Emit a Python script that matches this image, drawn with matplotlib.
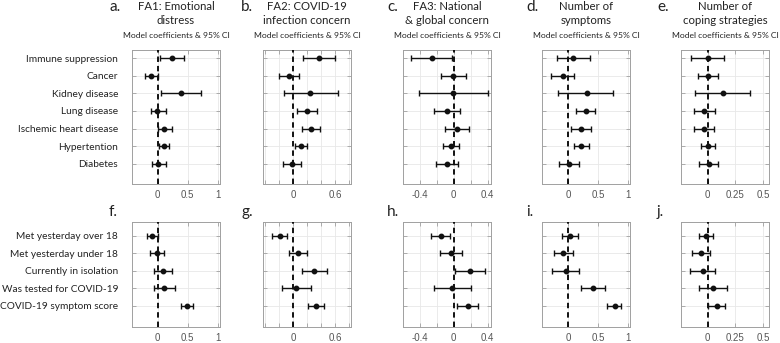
import matplotlib.pyplot as plt

# ---------------- data ----------------
row1_labels = ["Immune suppression", "Cancer", "Kidney disease", "Lung disease",
               "Ischemic heart disease", "Hypertention", "Diabetes"]
row2_labels = ["Met yesterday over 18", "Met yesterday under 18",
               "Currently in isolation", "Was tested for COVID-19",
               "COVID-19 symptom score"]

# top row: coefficient, lower / upper 95% CI
a_coef = [0.245, -0.105, 0.395, -0.005, 0.11, 0.10, 0.01]
a_lo = [0.045, -0.217, 0.05, -0.12, 0.005, 0.02, -0.095]
a_hi = [0.44, 0.01, 0.73, 0.13, 0.23, 0.18, 0.13]

b_coef = [0.37, -0.057, 0.25, 0.193, 0.255, 0.108, -0.014]
b_lo = [0.147, -0.195, -0.133, 0.05, 0.122, 0.023, -0.138]
b_hi = [0.605, 0.08, 0.64, 0.34, 0.39, 0.207, 0.118]

c_coef = [-0.258, -0.004, -0.008, -0.08, 0.036, -0.028, -0.083]
c_lo = [-0.505, -0.147, -0.413, -0.23, -0.107, -0.124, -0.214]
c_hi = [-0.016, 0.15, 0.405, 0.075, 0.18, 0.067, 0.051]

d_coef = [0.084, -0.095, 0.314, 0.297, 0.213, 0.213, 0.011]
d_lo = [-0.19, -0.29, -0.17, 0.134, 0.045, 0.10, -0.157]
d_hi = [0.36, 0.10, 0.75, 0.454, 0.386, 0.353, 0.19]

e_coef = [0.0, 0.006, 0.142, -0.033, -0.033, 0.003, 0.009]
e_lo = [-0.148, -0.082, -0.115, -0.124, -0.124, -0.058, -0.076]
e_hi = [0.15, 0.094, 0.38, 0.07, 0.058, 0.07, 0.094]

# bottom row
f_coef = [-0.094, -0.017, 0.089, 0.11, 0.49]
f_lo = [-0.178, -0.122, -0.056, -0.067, 0.394]
f_hi = [0.0, 0.10, 0.245, 0.283, 0.594]

g_coef = [-0.19, 0.066, 0.30, 0.047, 0.333]
g_lo = [-0.295, -0.057, 0.128, -0.157, 0.214]
g_hi = [-0.08, 0.195, 0.48, 0.252, 0.447]

h_coef = [-0.155, -0.032, 0.19, -0.016, 0.163]
h_lo = [-0.27, -0.163, 0.012, -0.234, 0.044]
h_hi = [-0.044, 0.10, 0.373, 0.20, 0.29]

i_coef = [0.03, -0.08, -0.03, 0.41, 0.78]
i_lo = [-0.11, -0.235, -0.27, 0.21, 0.66]
i_hi = [0.17, 0.085, 0.19, 0.615, 0.89]

j_coef = [-0.015, -0.06, -0.045, 0.048, 0.088]
j_lo = [-0.079, -0.145, -0.157, -0.076, 0.006]
j_hi = [0.052, 0.018, 0.064, 0.176, 0.16]

titles = [("FA1: Emotional", "distress"),
          ("FA2: COVID-19", "infection concern"),
          ("FA3: National", "& global concern"),
          ("Number of", "symptoms"),
          ("Number of", "coping strategies")]
letters_top = ["a.", "b.", "c.", "d.", "e."]
letters_bot = ["f.", "g.", "h.", "i.", "j."]

# ---------------- layout ----------------
W, H = 780, 343
col_left = [132, 263, 403, 542, 681]
col_w = 88
letter_x = [109, 241, 387, 526, 657]

xlims = [(-0.43, 1.04), (-0.43, 0.83), (-0.60, 0.44), (-0.44, 1.04), (-0.24, 0.555)]
xticks = [[0, 0.5, 1],
          [-0.4, -0.2, 0, 0.2, 0.4, 0.6, 0.8],
          [-0.6, -0.4, -0.2, 0, 0.2, 0.4],
          [0, 0.5, 1],
          [0, 0.25, 0.5]]
xticklabels = [["0", "0.5", "1"],
               ["", "", "0", "", "", "0.6", ""],
               ["", "-0.4", "", "0", "", "0.4"],
               ["0", "0.5", "1"],
               ["0", "0.25", "0.5"]]

top_data = [(a_coef, a_lo, a_hi), (b_coef, b_lo, b_hi), (c_coef, c_lo, c_hi),
            (d_coef, d_lo, d_hi), (e_coef, e_lo, e_hi)]
bot_data = [(f_coef, f_lo, f_hi), (g_coef, g_lo, g_hi), (h_coef, h_lo, h_hi),
            (i_coef, i_lo, i_hi), (j_coef, j_lo, j_hi)]

TXT = "Lato"
SPINE = "#a0a0a0"

fig = plt.figure(figsize=(W / 100, H / 100), dpi=100)


def px_axes(x0, y0, w, h):
    return fig.add_axes([x0 / W, 1 - (y0 + h) / H, w / W, h / H])


def draw_panel(ax, data, labels, k, ylim, show_labels):
    coef, lo, hi = data
    pos = list(range(1, len(coef) + 1))
    err = [[c - l for c, l in zip(coef, lo)], [u - c for c, u in zip(coef, hi)]]
    ax.set_xlim(*xlims[k])
    ax.set_ylim(*ylim)
    ax.axvline(0, color="k", ls=(0, (3, 2.2)), lw=1.3, zorder=3)
    ax.errorbar(coef, pos, xerr=err, fmt="o", color="#111111", ms=3.2,
                elinewidth=1.0, capsize=2.3, capthick=1.0, zorder=4)
    ax.set_xticks(xticks[k])
    ax.set_xticklabels(xticklabels[k], family="Liberation Sans", fontsize=7,
                       color="#555555")
    ax.set_yticks(pos)
    if show_labels:
        ax.set_yticklabels(labels, family=TXT, fontsize=7.3, color="#222222")
    else:
        ax.set_yticklabels([])
    ax.grid(True, color="#e8e8e8", lw=0.6)
    ax.set_axisbelow(True)
    ax.tick_params(direction="in", length=3, width=0.6, color=SPINE,
                   top=True, right=True)
    ax.tick_params(axis="y", pad=10)
    ax.tick_params(axis="x", pad=4)
    for s in ax.spines.values():
        s.set_color(SPINE)
        s.set_linewidth(0.7)


for k in range(5):
    ax1 = px_axes(col_left[k], 50, col_w, 134)
    draw_panel(ax1, top_data[k], row1_labels, k, (8.16, 0.53), k == 0)
    ax2 = px_axes(col_left[k], 222, col_w, 105)
    draw_panel(ax2, bot_data[k], row2_labels, k, (6.22, 0.22), k == 0)

    cx = (col_left[k] + col_w / 2) / W
    fig.text(cx, 1 - 7 / H, titles[k][0], ha="center", va="center",
             family=TXT, fontsize=8.2, color="#222222")
    fig.text(cx, 1 - 21 / H, titles[k][1], ha="center", va="center",
             family=TXT, fontsize=8.2, color="#222222")
    fig.text(cx, 1 - 35 / H, "Model coefficients & 95% CI", ha="center",
             va="center", family=TXT, fontsize=6.1, color="#222222")
    fig.text(letter_x[k] / W, 1 - 7 / H, letters_top[k], ha="left",
             va="center", family=TXT, fontsize=11, color="#222222")
    fig.text(letter_x[k] / W, 1 - 212 / H, letters_bot[k], ha="left",
             va="center", family=TXT, fontsize=11, color="#222222")

fig.savefig("out.png", dpi=100)
